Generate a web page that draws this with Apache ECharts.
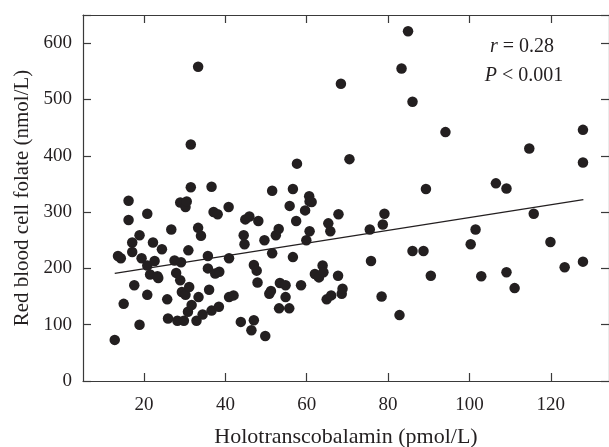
<!DOCTYPE html>
<html>
<head>
<meta charset="utf-8">
<script src="https://cdn.jsdelivr.net/npm/echarts@6/dist/echarts.min.js"></script>
<style>html,body{margin:0;padding:0;background:#fff}#c{width:609px;height:447px}</style>
</head>
<body>
<div id="c"></div>
<script>
const holoTC = [12.8,13.6,14.3,15.0,16.2,16.2,17.1,17.1,17.6,18.9,18.9,19.4,20.8,20.8,20.8,21.5,22.2,22.6,23.3,23.5,24.4,25.7,25.9,26.7,27.5,27.9,28.2,28.9,28.9,29.1,29.3,29.8,30.2,30.5,30.2,30.8,30.9,31.1,31.5,31.5,31.7,32.9,33.3,33.3,33.4,34.0,34.4,35.7,35.7,36.0,36.6,36.6,37.1,37.5,38.1,38.5,38.4,40.8,40.9,40.9,42.0,43.8,44.5,44.7,44.9,45.9,46.4,47.0,47.0,47.7,47.9,48.1,49.6,49.8,50.8,51.2,51.5,51.5,52.4,53.1,53.2,53.4,54.8,54.8,55.7,55.8,56.6,56.6,57.4,57.6,58.6,59.6,59.9,60.6,60.7,61.2,60.7,62.0,63.0,63.9,64.1,64.9,65.3,65.8,66.0,67.8,67.7,68.4,68.6,68.8,70.5,75.5,75.8,78.4,78.7,79.1,82.8,83.3,84.9,86.0,86.0,88.7,89.3,90.5,94.1,100.3,101.5,102.9,106.5,109.1,109.1,111.1,114.7,115.8,119.9,123.4,127.9,127.9,127.9];
const rbcFolate = [73,222,218,137,320,286,246,229,170,259,100,218,297,153,205,189,246,213,186,183,234,145,111,269,214,192,107,317,179,211,158,107,309,319,153,123,232,167,420,344,135,107,558,272,149,258,118,222,200,162,345,125,300,191,296,194,132,309,218,149,152,105,259,243,287,292,90,108,206,196,175,284,250,80,155,160,338,227,259,270,129,174,170,149,129,311,341,220,284,386,170,303,250,328,319,318,266,190,184,205,193,145,280,266,152,296,187,528,155,164,394,269,213,150,278,297,117,555,621,496,231,231,341,187,442,243,269,186,351,342,193,165,413,297,247,202,446,388,212];
const fitX = [12.8, 128];
const fitY = [191, 322];
const xTicks = [20, 40, 60, 80, 100, 120];
const yTicks = [0, 100, 200, 300, 400, 500, 600];

const points = holoTC.map((x, i) => [x, rbcFolate[i]]);
const fitLine = fitX.map((x, i) => [x, fitY[i]]);

const FONT = 'Liberation Serif';
const INK = '#231f20';
const axisColor = '#3a3a3a';
const baseX = {
  type: 'value', min: 5, max: 134.3,
  axisLine: { show: true, onZero: false, lineStyle: { color: axisColor, width: 1.2 } },
  axisTick: { show: true, inside: true, length: 8, customValues: xTicks, lineStyle: { color: axisColor, width: 1.2 } },
  splitLine: { show: false }
};
const baseY = {
  type: 'value', min: 0, max: 650, interval: 100,
  axisLine: { show: true, onZero: false, lineStyle: { color: axisColor, width: 1.2 } },
  axisTick: { show: true, inside: true, length: 8, lineStyle: { color: axisColor, width: 1.2 } },
  splitLine: { show: false }
};

const chart = echarts.init(document.getElementById('c'), null, { renderer: 'canvas' });
chart.setOption({
  animation: false,
  backgroundColor: '#fff',
  grid: { left: 83, right: 0, top: 15, bottom: 66, containLabel: false, outerBoundsMode: 'none' },
  xAxis: [
    Object.assign({}, baseX, {
      position: 'bottom',
      name: 'Holotranscobalamin (pmol/L)', nameLocation: 'middle', nameGap: 45,
      nameTextStyle: { fontFamily: FONT, fontSize: 22, color: INK },
      axisLabel: { customValues: xTicks, margin: 15, fontFamily: FONT, fontSize: 19, color: INK }
    }),
    Object.assign({}, baseX, { position: 'top', axisLabel: { show: false } })
  ],
  yAxis: [
    Object.assign({}, baseY, {
      position: 'left',
      name: 'Red blood cell folate (nmol/L)', nameLocation: 'middle', nameGap: 50,
      nameTextStyle: { fontFamily: FONT, fontSize: 21, color: INK },
      axisLabel: { margin: 11, fontFamily: FONT, fontSize: 19, color: INK,
        formatter: v => yTicks.includes(v) ? String(v) : '' }
    }),
    Object.assign({}, baseY, { position: 'right', axisLabel: { show: false } })
  ],
  series: [
    {
      type: 'scatter', data: points, symbol: 'circle', symbolSize: 10.5,
      itemStyle: { color: INK, opacity: 1 }, xAxisIndex: 0, yAxisIndex: 0, z: 3
    },
    {
      type: 'line', data: fitLine, symbol: 'none', lineStyle: { color: INK, width: 1.3 },
      xAxisIndex: 0, yAxisIndex: 0, z: 2
    }
  ],
  graphic: [
    { type: 'text', x: 522, y: 47, style: { text: '{i|r} = 0.28', fill: INK, align: 'center', verticalAlign: 'middle',
      font: '20px ' + FONT, rich: { i: { fontStyle: 'italic', fontFamily: FONT, fontSize: 20 } } } },
    { type: 'text', x: 524, y: 76, style: { text: '{i|P} < 0.001', fill: INK, align: 'center', verticalAlign: 'middle',
      font: '20px ' + FONT, rich: { i: { fontStyle: 'italic', fontFamily: FONT, fontSize: 20 } } } }
  ]
});
</script>
</body>
</html>
